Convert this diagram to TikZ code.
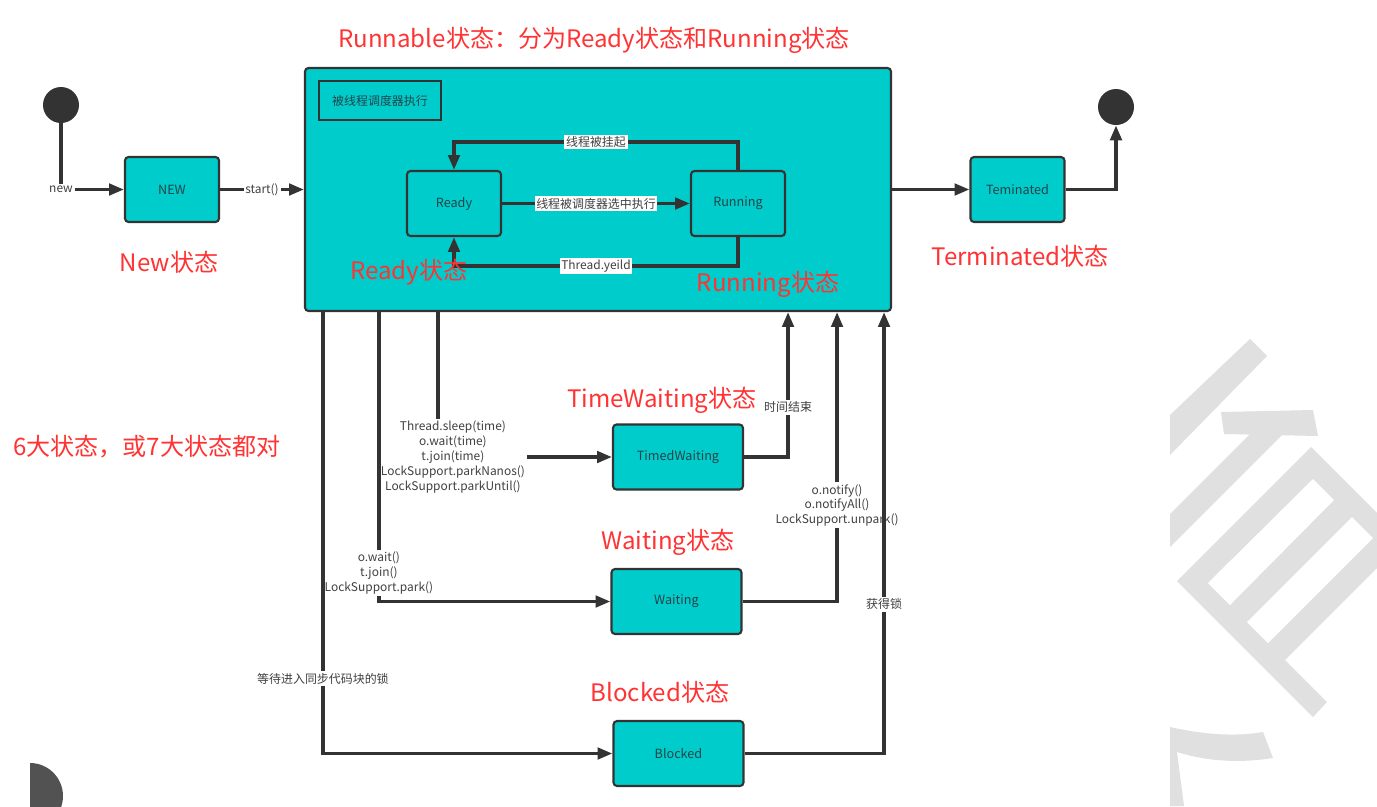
\documentclass[tikz,border=0pt]{standalone}
\usepackage{fontspec}
\setmainfont{Noto Sans CJK SC}
\usetikzlibrary{arrows.meta}
\definecolor{boxcyan}{RGB}{0,204,204}
\definecolor{linegray}{RGB}{51,51,51}
\definecolor{boxtext}{RGB}{34,68,72}
\definecolor{notered}{RGB}{255,51,51}
\definecolor{markgray}{RGB}{224,224,224}
\tikzset{
  state/.style={draw=linegray, line width=1.2pt, fill=boxcyan, rounded corners=2pt,
    inner sep=0pt, text=boxtext, font=\fontsize{7.2}{8.5}\selectfont},
  smallbox/.style={state, minimum width=94*\pxl, minimum height=65*\pxl},
  widebox/.style={state, minimum width=130*\pxl, minimum height=65*\pxl},
  flow/.style={draw=linegray, line width=2pt, -{Triangle[length=8.5pt,width=6.5pt]}},
  lbl/.style={fill=white, inner sep=1pt, text=black!75, align=center,
    font=\fontsize{6.8}{8.5}\selectfont},
  note/.style={text=notered, inner sep=0pt, font=\fontsize{13.7}{16}\selectfont},
  endpoint/.style={circle, fill=linegray, minimum size=36*\pxl, inner sep=0pt},
}
\begin{document}
\begin{tikzpicture}[x=0.02cm, y=-0.02cm]
\def\pxl{0.02cm};
\useasboundingbox (0,0) rectangle (1377,806);
\fill[white] (0,0) rectangle (1377,806);

% watermark in the right corner
\fill[markgray] (1170,415) -- (1250,339) -- (1267,356) -- (1170,455) -- cycle;
\fill[markgray] (1221,412) -- (1313,410) -- (1318,436) -- (1224,434) -- cycle;
\fill[markgray] (1250,434) -- (1283,434) -- (1170,547) -- (1170,514) -- cycle;
\fill[markgray] (1311,447) -- (1377,513) -- (1377,568) -- (1285,660) -- (1327,702)
  -- (1313,717) -- (1177,581) -- cycle;
\fill[white] (1313,479) -- (1334,500) -- (1230,605) -- (1208,583) -- cycle;
\fill[white] (1352,517) -- (1373,538) -- (1268,643) -- (1247,622) -- cycle;
\fill[markgray] (1170,727) .. controls (1210,736) and (1240,736) .. (1263,732)
  -- (1273,758) .. controls (1240,763) and (1210,762) .. (1177,752)
  -- (1184,806) -- (1170,806) -- cycle;
\begin{scope}
  \clip (30,740) rectangle (110,806);
  \fill[linegray!85!white] (30,796) circle[radius=33*\pxl];
\end{scope}

% states
\node[endpoint] (init) at (61,105) {};
\node[endpoint] (final) at (1116,107) {};
\node[smallbox] (new) at (172,189.5) {NEW};
\node[state, minimum width=586*\pxl, minimum height=243*\pxl] (runnable) at (598,189.5) {};
\node[draw=linegray, line width=1.2pt, minimum width=122*\pxl, minimum height=39*\pxl,
  inner sep=0pt, text=boxtext, font=\fontsize{6.8}{8}\selectfont] (sched) at (380,100.5) {被线程调度器执行};
\node[smallbox] (ready) at (454,203.5) {Ready};
\node[smallbox] (running) at (738,203.5) {Running};
\node[smallbox] (term) at (1017.5,189.5) {Teminated};
\node[widebox] (timed) at (678,457) {TimedWaiting};
\node[widebox] (waiting) at (676.5,601.5) {Waiting};
\node[widebox] (blocked) at (678.5,753.5) {Blocked};

% transitions
\draw[flow] (init) |- node[lbl] {new} (new);
\draw[flow] (new) -- node[lbl] {start()} (runnable);
\draw[flow] (runnable) -- (term);
\draw[flow] (term) -| (final);
\draw[flow] (ready) -- node[lbl] {线程被调度器选中执行} (running);
\draw[flow] (running.north) -- ++(0,-28) -| node[lbl, pos=0.25] {线程被挂起} (ready.north);
\draw[flow] (running.south) -- ++(0,29) -| node[lbl, pos=0.25] {Thread.yeild} (ready.south);

\draw[flow] ([xshift=134*\pxl]runnable.south west) |- node[lbl, pos=0.5, xshift=15*\pxl]
  {Thread.sleep(time)\\o.wait(time)\\t.join(time)\\LockSupport.parkNanos()\\LockSupport.parkUntil()} (timed);
\draw[flow] ([xshift=75*\pxl]runnable.south west) |- node[lbl, pos=0.45]
  {o.wait()\\t.join()\\LockSupport.park()} (waiting);
\draw[flow] ([xshift=19*\pxl]runnable.south west) |- node[lbl, pos=0.415] {等待进入同步代码块的锁} (blocked);

\draw[flow] (timed) -| node[lbl, pos=0.671] {时间结束} ([xshift=-104*\pxl]runnable.south east);
\draw[flow] (waiting) -| node[lbl, pos=0.666]
  {o.notify()\\o.notifyAll()\\LockSupport.unpark()} ([xshift=-55*\pxl]runnable.south east);
\draw[flow] (blocked) -| node[lbl, pos=0.669] {获得锁} ([xshift=-8*\pxl]runnable.south east);

% red remarks
\foreach \x/\y/\name/\txt in {594/40/runnablenote/{Runnable状态：分为Ready状态和Running状态},
    169/262/newnote/{New状态}, 409/272/readynote/{Ready状态}, 768/284/runningnote/{Running状态},
    1020/256/termnote/{Terminated状态}, 662/400/timednote/{TimeWaiting状态},
    668/542/waitingnote/{Waiting状态}, 660/692/blockednote/{Blocked状态},
    147/447/countnote/{6大状态，或7大状态都对}}{
  \node[note] (\name) at (\x,\y) {\txt};
}
\end{tikzpicture}
\end{document}
